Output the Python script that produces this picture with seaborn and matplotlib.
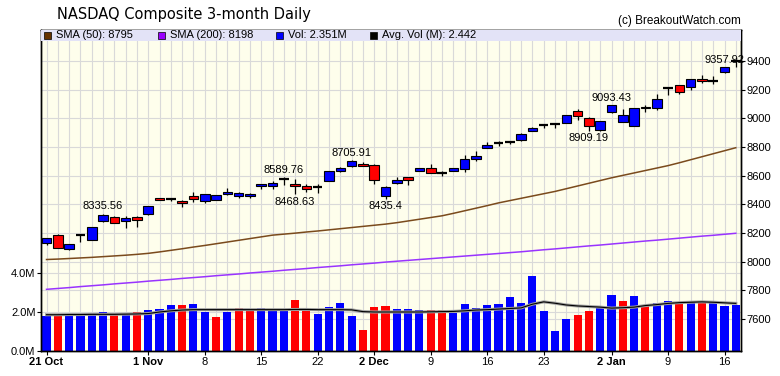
import numpy as np
import pandas as pd
import seaborn as sns
import matplotlib.pyplot as plt
import matplotlib.transforms as mtransforms
from matplotlib.patches import Rectangle

# daily candles, 21 Oct .. 17 Jan (62 trading days)
opens = [8133, 8187, 8087, 8185, 8150, 8285, 8313, 8283, 8313, 8330,
         8444, 8436, 8423, 8460, 8423, 8430, 8472, 8458, 8456, 8525,
         8525, 8575, 8542, 8528, 8525, 8563, 8633, 8665, 8682, 8675,
         8455, 8551, 8591, 8633, 8654, 8617, 8633, 8647, 8717, 8792,
         8829, 8834, 8847, 8914, 8952, 8956, 8970, 9052, 9003, 8917,
         9041, 8977, 8950, 9080, 9069, 9208, 9232, 9216, 9272, 9262,
         9321, 9396]
highs = [8166, 8194, 8124, 8187, 8245, 8335.56, 8318, 8320, 8318, 8390,
         8446, 8445, 8432, 8488, 8474, 8467, 8516, 8488, 8481, 8544,
         8565, 8589.76, 8576, 8542, 8542, 8635, 8659, 8705.91, 8694, 8678,
         8525, 8588, 8593, 8656, 8682, 8630, 8656, 8745, 8775, 8838,
         8841, 8845, 8896, 8940, 8959, 8968, 9024, 9068, 9010, 8982,
         9093.43, 9068, 9075, 9096, 9173, 9220, 9234, 9276, 9302, 9295,
         9357.92, 9410]
lows = [8114, 8094, 8080, 8135, 8148, 8280, 8270, 8238, 8245, 8328,
        8428, 8425, 8378, 8413, 8409, 8428, 8465, 8444, 8442, 8504,
        8504, 8537, 8468.63, 8484, 8477, 8560, 8626, 8662, 8665, 8542,
        8435.4, 8542, 8537, 8630, 8616, 8597, 8630, 8628, 8705, 8790,
        8806, 8822, 8845, 8912, 8935, 8935, 8968, 8990, 8909.19, 8912,
        9038, 8975, 8947, 9045, 9057, 9162, 9169, 9197, 9244, 9237,
        9318, 9360]
closes = [8163, 8098, 8122, 8186, 8243, 8325, 8273, 8304, 8290, 8388,
          8430, 8437, 8409, 8437, 8472, 8465, 8484, 8476, 8474, 8542,
          8549, 8576, 8528, 8507, 8524, 8633, 8652, 8705, 8668, 8570,
          8523, 8568, 8571, 8654, 8619, 8616, 8654, 8717, 8738, 8813,
          8830, 8834.5, 8893, 8931, 8953, 8957, 9022, 9015, 8950, 8980,
          9092, 9024, 9073, 9069, 9132, 9209, 9181, 9274, 9258, 9263,
          9357, 9397]

volume = [1.77, 1.88, 1.83, 1.88, 1.88, 1.98, 1.83, 1.93, 1.98, 2.09,
          2.14, 2.35, 2.35, 2.40, 1.98, 1.72, 1.98, 2.19, 2.14, 2.19,
          2.03, 2.09, 2.61, 2.10, 1.88, 2.24, 2.45, 1.77, 1.10, 2.24,
          2.30, 2.14, 2.14, 2.09, 2.09, 2.09, 1.93, 2.40, 2.19, 2.35,
          2.40, 2.77, 2.45, 3.86, 2.03, 1.04, 1.62, 1.83, 2.03, 2.19,
          2.87, 2.56, 2.82, 2.35, 2.45, 2.56, 2.40, 2.56, 2.56, 2.45,
          2.30, 2.351]
avg_volume = [1.86, 1.86, 1.87, 1.87, 1.88, 1.88, 1.88, 1.89, 1.90, 1.92,
              2.00, 2.06, 2.10, 2.12, 2.12, 2.12, 2.12, 2.12, 2.12, 2.12,
              2.12, 2.12, 2.13, 2.13, 2.12, 2.12, 2.12, 2.11, 2.02, 2.00,
              2.00, 2.00, 2.00, 2.00, 2.01, 2.02, 2.03, 2.06, 2.10, 2.12,
              2.15, 2.18, 2.21, 2.40, 2.52, 2.45, 2.36, 2.31, 2.28, 2.25,
              2.20, 2.22, 2.25, 2.33, 2.38, 2.44, 2.48, 2.50, 2.52, 2.50,
              2.47, 2.442]
sma50 = [8015, 8018, 8022, 8026, 8030, 8035, 8040, 8045, 8051, 8058,
         8068, 8079, 8090, 8102, 8113, 8125, 8137, 8149, 8161, 8173,
         8185, 8192, 8199, 8207, 8214, 8222, 8230, 8238, 8246, 8254,
         8262, 8272, 8284, 8296, 8308, 8320, 8337, 8355, 8373, 8391,
         8410, 8426, 8442, 8458, 8474, 8490, 8509, 8528, 8547, 8566,
         8585, 8602, 8619, 8636, 8653, 8670, 8690, 8711, 8732, 8753,
         8774, 8795]
sma200 = [7807, 7813, 7819, 7826, 7832, 7838, 7845, 7851, 7857, 7864,
          7870, 7876, 7883, 7889, 7895, 7902, 7908, 7914, 7921, 7927,
          7933, 7940, 7946, 7952, 7959, 7965, 7971, 7978, 7984, 7990,
          7997, 8003, 8009, 8015, 8021, 8027, 8033, 8039, 8045, 8051,
          8057, 8063, 8069, 8076, 8083, 8089, 8096, 8103, 8110, 8116,
          8123, 8130, 8137, 8144, 8150, 8157, 8164, 8171, 8178, 8184,
          8191, 8198]

tick_pos = [0, 9, 14, 19, 24, 29, 34, 39, 44, 50, 55, 60]
tick_labels = ["21 Oct", "1 Nov", "8", "15", "22", "2 Dec", "9", "16", "23", "2 Jan", "9", "16"]
month_labels = ["21 Oct", "1 Nov", "2 Dec", "2 Jan"]
price_ticks = [7600, 7800, 8000, 8200, 8400, 8600, 8800, 9000, 9200, 9400]
vol_ticks = [0, 2, 4]
peak_days = [5, 21, 27, 50, 60]
trough_days = [22, 30, 48]

BLUE, RED = "#0000FF", "#FF0000"
GRID = "#D9D9D9"

plt.rcParams["font.family"] = ["Liberation Sans", "DejaVu Sans"]

days = np.arange(len(closes))
o, h, l, c = map(np.array, (opens, highs, lows, closes))
vol_dir = ["up"] + ["up" if c[i] >= c[i - 1] else "down" for i in range(1, len(c))]
df = pd.DataFrame({"day": days, "vol": volume, "dir": vol_dir})

W, H = 780, 376
fig = plt.figure(figsize=(W / 100, H / 100), dpi=100)
ax = fig.add_axes([41 / W, 1 - 351 / H, 700 / W, 321 / H])
ax.set_facecolor("#FEFEEC")

# volume bars on the left axis
sns.barplot(data=df, x="day", y="vol", hue="dir", palette={"up": BLUE, "down": RED},
            dodge=False, width=0.72, saturation=1, legend=False, ax=ax, zorder=2)
sns.lineplot(x=days, y=avg_volume, ax=ax, color="#A0A0A0", lw=2.2, zorder=3)
sns.lineplot(x=days, y=avg_volume, ax=ax, color="#000000", lw=0.8, zorder=4)
ax.set_ylim(0, 321 / 19.5)
ax.set_yticks(vol_ticks, [f"{v:.1f}M" for v in vol_ticks])

ax_p = ax.twinx()
ax_p.set_ylim(7376.7, 9616.3)
ax_p.set_yticks(price_ticks)

# grid (kept behind the bars)
ax.set_axisbelow(True)
ax.set_xticks(days, minor=True)
ax.grid(axis="x", which="both", color=GRID, lw=0.8, zorder=0)
ax.grid(axis="y", which="major", color=GRID, lw=0.8, zorder=0)
trans = mtransforms.blended_transform_factory(ax.transAxes, ax_p.transData)
for p in price_ticks:
    ax.plot([0, 1], [p, p], transform=trans, color=GRID, lw=0.8, zorder=0.5)

# moving averages
sns.lineplot(x=days, y=sma50, ax=ax_p, color="#7A4A1C", lw=1.1, zorder=3)
sns.lineplot(x=days, y=sma200, ax=ax_p, color="#9933FF", lw=1.1, zorder=3)

# candles
doji = np.abs(c - o) <= 1.5
body_col = np.where(c > o, BLUE, RED)
ax_p.vlines(days, l, h, color="black", lw=0.9, zorder=4)
nb = ~doji
ax_p.bar(days[nb], np.abs(c - o)[nb], bottom=np.minimum(o, c)[nb], width=0.85,
         color=body_col[nb], edgecolor="black", lw=0.8, zorder=5)
ax_p.hlines(c[doji], days[doji] - 0.42, days[doji] + 0.42, color="black", lw=1.6, zorder=5)

for d in peak_days:
    ax_p.annotate(f"{highs[d]:g}", (d, highs[d]), xytext=(0, 1.5), textcoords="offset points",
                  ha="center", va="bottom", fontsize=8, zorder=6)
for d in trough_days:
    ax_p.annotate(f"{lows[d]:g}", (d, lows[d]), xytext=(0, -1.5), textcoords="offset points",
                  ha="center", va="top", fontsize=8, zorder=6)

ax.set_xlim(-0.49, 61.46)
ax.set_xticks(tick_pos, tick_labels)
for t in ax.get_xticklabels():
    if t.get_text() in month_labels:
        t.set_fontweight("bold")
ax.set_xlabel("")
ax.set_ylabel("")
ax_p.set_ylabel("")
ax.tick_params(axis="x", which="major", length=3, pad=1, labelsize=8)
ax.tick_params(axis="x", which="minor", length=0)
ax.tick_params(axis="y", length=3, pad=1, labelsize=8)
ax_p.tick_params(axis="y", length=3, pad=1, labelsize=8)
for a in (ax, ax_p):
    for s in a.spines.values():
        s.set_color("black")
        s.set_linewidth(1)

# legend band
band_h = 11 / 321
ax_p.add_patch(Rectangle((0, 1 - band_h), 1, band_h, transform=ax_p.transAxes,
                         facecolor="#E3E3F7", edgecolor="none", zorder=7, clip_on=False))
legend_items = [
    ("#663300", f"SMA (50): {sma50[-1]}", 3),
    ("#9900FF", f"SMA (200): {sma200[-1]}", 117),
    (BLUE, f"Vol: {volume[-1]:.3f}M", 235),
    ("#000000", f"Avg. Vol (M): {avg_volume[-1]:.3f}", 329),
]
yc = 1 - band_h / 2
for col, txt, px in legend_items:
    ax_p.add_patch(Rectangle((px / 700, yc - 3.5 / 321), 7 / 700, 7 / 321, transform=ax_p.transAxes,
                             facecolor=col, edgecolor="black", lw=0.5, zorder=8))
    ax_p.text((px + 12) / 700, yc, txt, transform=ax_p.transAxes, fontsize=8,
              va="center", ha="left", zorder=8)

fig.text(57 / W, 1 - 14 / H, "NASDAQ Composite 3-month Daily", fontsize=10.5,
         family="DejaVu Sans", va="center", ha="left")
fig.text(741 / W, 1 - 21 / H, "(c) BreakoutWatch.com", fontsize=8.5, va="center", ha="right")

fig.savefig("out.png", dpi=100, facecolor="white")
